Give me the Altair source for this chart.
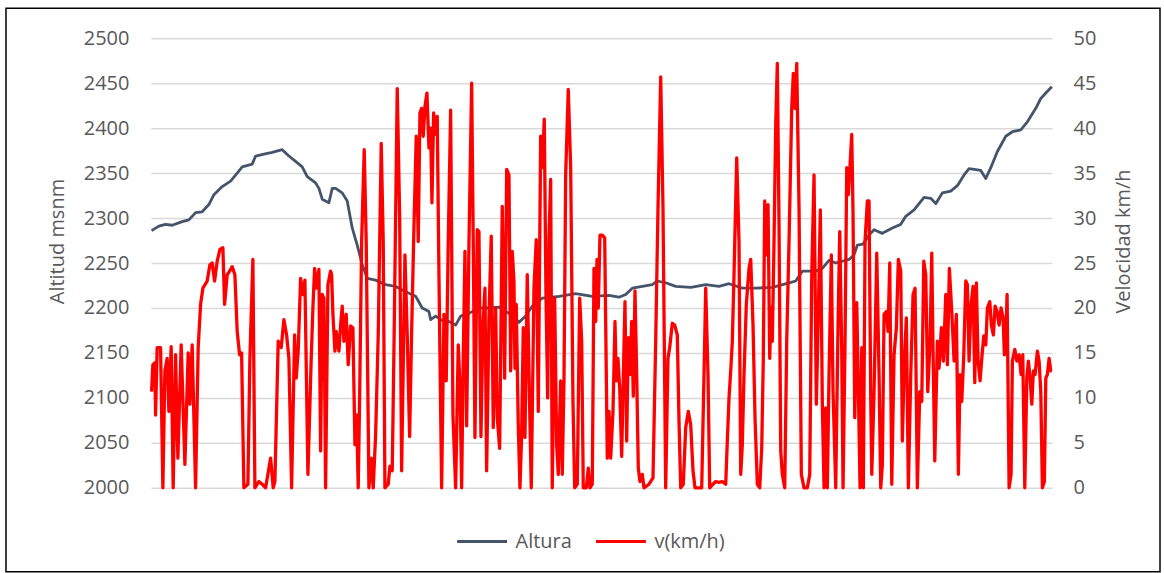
import altair as alt
import pandas as pd

# Altura (msnm) — sample position along the route vs altitude
alt_t = [0.7, 8, 14.7, 21.3, 31.3, 38, 44.7, 51.3, 58, 63, 71.3, 79.7, 86.3, 91.3, 101.3, 104.7,
         113, 121.3, 131.3, 138, 144.7, 151.3, 156.3, 164.7, 168, 171.3, 178, 181.3, 184.7, 191.3,
         196.3, 201.3, 206.3, 211.3, 216.3, 224.7, 234.7, 244.7, 254.7, 264.7, 271.3, 278, 279.7,
         284.7, 291.3, 298, 304.7, 309.7, 318, 328, 338, 348, 358, 368, 374.7, 381.3, 391.3, 408,
         424.7, 441.3, 458, 468, 474.7, 481.3, 491.3, 501.3, 506.3, 514.7, 524.7, 540, 554.7, 568,
         578, 591.3, 604.7, 621.3, 638, 644.7, 651.3, 664.7, 671.3, 678, 684.7, 698, 703, 706.3,
         712, 718, 723, 731.3, 741.3, 749.7, 754.7, 763, 773, 779.7, 784.7, 791.3, 799.7, 806.3,
         813, 818, 829.7, 834.7, 839.7, 846.3, 854.7, 861.3, 869.7, 876.3, 884.7, 889.7, 894.7, 900.7]
alt_v = [2286, 2291, 2293, 2292, 2296, 2298, 2306, 2307, 2315, 2326, 2335, 2341, 2350, 2357, 2360, 2369,
         2371, 2373, 2376, 2369, 2363, 2357, 2346, 2339, 2333, 2321, 2317, 2333, 2333, 2328,
         2319, 2289, 2270, 2248, 2233, 2231, 2226, 2224, 2218, 2213, 2200, 2196, 2187,
         2191, 2186, 2185, 2181, 2191, 2194, 2200, 2200, 2201, 2194, 2184, 2191, 2202, 2211, 2213,
         2216, 2213, 2214, 2212, 2215, 2222, 2224, 2226, 2230, 2228, 2224, 2223, 2226, 2224,
         2227, 2222, 2222, 2223, 2228, 2230, 2241, 2241, 2244, 2253, 2250, 2254, 2259, 2270,
         2271, 2281, 2287, 2283, 2289, 2293, 2302, 2309, 2323, 2322, 2316, 2328, 2330, 2336,
         2348, 2355, 2353, 2344, 2356, 2374, 2391, 2396, 2398, 2407, 2422, 2433, 2439, 2446]

# v(km/h)
vel_t = [0.7, 2, 4, 4.7, 6.3, 9.7, 12, 14, 16.3, 18, 20.3, 22.3, 24.7, 27, 30.3, 34, 37.3, 39, 41.3,
         44.7, 47.3, 49.7, 52, 56.3, 59, 61.3, 63.7, 66.3, 69, 72, 73.7, 76.3, 78.7, 81.3, 84, 86.3,
         88.7, 90.7, 93, 97, 99, 102, 104, 108, 111.3, 114.7, 119.7, 122.3, 124, 127.3, 130.3, 133,
         135.7, 138, 140.7, 143.7, 145.3, 147.3, 149.7, 152, 154, 157, 160.3, 162, 163.7, 165.3, 168,
         169.7, 171.3, 173, 174.7, 177, 179.7,
         180.7, 182, 184, 185.3, 188, 189.7, 191.3, 193, 195.3, 197.3, 199.7, 202, 204, 205.7, 207.3,
         208.7, 210.7, 213.3, 215.3, 218, 220.3, 222.3, 224.7, 227.3, 230.3, 232.3, 234, 237.3, 239,
         241.3, 243, 246.3, 248.7, 250.7, 254, 256.3, 258.7, 260.7, 263, 265.3, 267.3, 269, 270.7,
         272.3, 274, 276, 278, 279.7, 281, 282.7, 284.7, 286.3, 288, 290.7, 293, 295.3, 297.3, 299.7,
         302, 304.7, 307.3, 309, 310.7, 312.3, 314, 315.7, 318, 320.7, 322.3, 324, 326.3, 328, 330,
         332, 334, 335.7, 338, 340.3, 342.3, 344.7, 346.3, 348.7, 351.3, 353.7, 355.7, 358,
         359.7, 361.3, 363, 364, 365.3, 367.3, 369, 370.7, 372.3, 374, 376.3, 378.7, 380.3, 383,
         385.3, 387.3, 389.7, 391.3, 393.3, 395, 396.7, 398, 399.7, 401.3, 403.7, 405.7, 407.3, 409.7,
         411.3, 413, 414.7, 417.3, 419.7, 422, 423.7, 426.3, 428.7, 430.7, 432.3, 435.3, 437.3, 439,
         441.3, 443, 444.7, 446, 447.3, 449, 451.3, 453.7, 456.3, 458, 459.7, 462, 464, 465.3, 467,
         468.7, 470.7, 472.3, 474, 475.7, 477.3, 479, 480.7, 482.3, 484, 485.7, 487.3, 489, 491.3,
         493, 498, 502, 504.7, 507, 509.7, 512, 514.7, 517, 518.7, 521.3, 523.7, 526.3, 528, 529.7,
         532.3, 534.7, 537.3,
         539.7, 542, 544, 550.7, 553, 554.7, 557, 558.7, 562, 564.7, 568, 571.3, 574.7, 576.3, 578,
         579.7, 581.3, 583, 585.7, 588, 589.7, 591.3, 593, 595.3, 598, 599.7, 602, 604, 606.3, 608.7,
         610.7, 612.3, 613.7, 615.3, 617, 618.7, 620, 621.3, 623, 624.7, 626.3, 628, 629.7, 631.3,
         633.7, 635.7, 638, 640.7, 642.3, 644, 645.7, 648, 650.3, 653, 656.3, 658.7, 660.7, 663,
         665.3, 667.3, 669.3, 671.3, 673, 674.7, 676.3, 678, 680.3, 682, 684.7, 687, 688.7, 690.7,
         692, 694, 695.7, 697.3, 699, 700.7, 702, 703.7, 705.7, 707.3, 709, 710.7, 712.3, 714, 716.3,
         718, 719.7, 720.7, 723, 725.7, 728, 729.7, 731.3, 733, 735.3, 737, 738.7, 740.7, 743, 745.3,
         747.3, 749.7, 751.3, 753.3, 755.3, 757.3, 759.7, 762, 764, 766.3, 768.7, 770.7, 772.7,
         774.7, 776.7, 779, 780.7, 782, 783.7, 786.3, 788, 790.3, 792.3, 794.7, 796.3, 798.3, 800.7,
         803, 805.3, 807.3, 809, 810.7, 812.7, 814.7, 816.3, 818, 820, 822, 823.7, 825.3, 827, 829,
         830.7, 832.7, 834.7, 836.3, 838.7, 840.3, 842.3, 844, 846, 848, 850, 852, 853.3, 854.7, 856,
         858, 860, 861.3, 863.7, 865.7, 868, 870, 871.7, 873.7, 875.7, 877.3, 879, 880.7, 882.3, 884,
         886.3, 888, 889.7, 891.3, 893.3, 894.7, 896.3, 898, 899.7, 900.7]
vel_v = [10.7, 13.7, 13.9, 8.1, 15.6, 15.6, 0, 13, 14.4, 8.5, 15.7, 0, 14.8, 3.3, 15.9, 2.6, 15, 9.3, 15.9,
         0, 15.6, 20.4, 22.2, 23, 24.8, 25, 23, 25.2, 26.5, 26.7, 20.4, 23.7, 24.1, 24.6, 23.7, 17.4,
         14.8, 15, 0, 0.4, 14.4, 25.4, 0, 0.7, 0.4, 0, 3.3, 0, 0.7, 16.3, 15.6, 18.7,
         17, 14.4, 0, 17, 12.2, 15.2, 23.3, 21.5, 23.1, 1.5, 14.4, 20, 24.4, 22.2, 24.3,
         4.1, 21.5, 21.1, 0, 22.6, 24.1,
         23.7, 19.3, 15.2, 17.4, 15.2, 18.1, 20.2, 16.3, 19.3, 13.7, 18, 17.8, 4.8, 8.1, 0,
         10, 27.4, 37.6, 27.4, 0, 3.3, 0, 5.9, 17, 38.3, 27.4, 0, 0.4, 2.4,
         1.9, 15.2, 44.4, 30.4, 1.9, 25.9, 17, 5.7, 17.4, 28.9, 39.1, 27.4, 41.7, 42.2,
         39.1, 42.4, 43.9, 37.8, 40, 31.7, 41.7, 39.3, 41.3, 23.7, 0, 19.3, 11.9, 27.4, 42,
         8.1, 0, 15.9, 11.5, 0, 14.4, 26.3, 6.9, 27.2, 45, 27.4, 5.6, 28.7, 28.5, 5.7,
         18.1, 22.2, 1.9, 18.9, 28, 6.7, 20, 7.8, 4.4, 31.3, 12.2, 35.4, 34.8,
         13, 26.3, 23, 13.3, 20.4, 7, 0, 5.9, 17.8, 5.6, 23.7, 8.9, 0, 22.2,
         27.6, 8.5, 39.1, 35.6, 41, 21.5, 10, 27.8, 34.3, 0, 21.1, 4.8, 1.5, 11.9,
         1.5, 11.9, 34.8, 44.3, 35.6, 9.6, 0, 0.4, 21.1, 16.3, 0, 0, 2.2, 0,
         0.4, 24.4, 18.5, 25.4, 20, 28.1, 28.1, 27.8, 3.3, 8.5, 3.3, 8.5, 18.5, 11.9, 14.4,
         11.1, 3.5, 12.2, 20.7, 5.2, 16.7, 12.6, 18.5, 10.2, 21.9, 12.6, 2.2, 0.7, 1.5,
         0, 0.4, 1.1, 16.3, 31.1, 45.7, 31.1, 0, 14.4, 15.6, 18.3, 18.1, 17, 7.4, 0,
         0.4, 6.7, 8.5,
         7, 1.9, 0, 0, 12.6, 22.2, 12.6, 0, 0.4, 0.7, 0.6, 0.7, 0.4, 5.2, 10,
         13, 16.3, 23.7, 36.7, 27.4, 1.5, 4.8, 12.6, 20.4, 24.4, 25.4, 18.1, 7.8, 0.4, 0,
         4.4, 14.4, 31.9, 25.9, 31.5, 14.4, 20, 16.3, 27.4, 40.4, 47.2, 29.3, 4.1, 1.5,
         0, 16.3, 27.4, 42.2, 46.1, 42.2, 47.2, 31.1, 1.5, 0, 0, 1.5, 23.7, 34.8,
         9.3, 19.3, 30.9, 9.3, 0, 8.9, 0, 12.6, 25.9, 10.7, 0, 18.1, 28.5, 15.2,
         0, 16.3, 35.6, 32.6, 35.9, 39.3, 30.4, 7.8, 20.6, 11.1, 0, 15.6, 0, 27.4, 31.9,
         31.9, 10, 1.5, 10.7, 26.1, 12.6, 0, 2.6, 19.3, 19.6, 17.4, 25, 0.4, 14.8, 17.8,
         25.4, 24.1, 5.2, 14.1, 18.9, 0, 12.6, 21.5, 22.2, 0, 10.7, 9.6, 25.2,
         23.7, 10.7, 16.3, 26.1, 15.2, 3, 16.3, 13.3, 17.8, 14.1, 21.5, 13.7, 24.4, 19.6,
         14.1, 19.3, 1.5, 12.6, 9.6, 14.8, 23, 22.6, 14.1, 20.4, 22.4, 11.7, 22.8, 14.1, 11.9,
         14.4, 16.9, 15.9, 20, 20.7, 18.1, 17, 20.2, 19.6, 18.1, 20, 18.9, 14.8, 16.7, 21.5,
         0, 1.5, 14.1, 15.4, 14.1, 14.8, 12.6, 14.8, 0, 12.2, 14.1, 12.2, 9.3, 13, 12.6,
         15.2, 14.1, 10.7, 0, 0.7, 12.2, 12.6, 14.4, 13, 13]

series = ["Altura", "v(km/h)"]
colors = ["#44546A", "#FF0000"]
grey = "#595959"

df_alt = pd.DataFrame({"t": alt_t, "val": alt_v, "serie": series[0]})
df_vel = pd.DataFrame({"t": vel_t, "val": vel_v, "serie": series[1]})

xenc = alt.X("t:Q", scale=alt.Scale(domain=[0, 901], nice=False, zero=False), axis=None)
color = alt.Color(
    "serie:N",
    scale=alt.Scale(domain=series, range=colors),
    legend=alt.Legend(
        title=None, orient="none", legendX=305, legendY=477, direction="horizontal",
        symbolType="stroke", symbolSize=2500, symbolStrokeWidth=3,
        labelFontSize=20, labelColor=grey, labelFont="Open Sans",
        columnPadding=17, labelOffset=7, padding=0,
    ),
)

line_alt = alt.Chart(df_alt).mark_line(strokeWidth=2.8, strokeJoin="round").encode(
    x=xenc,
    y=alt.Y(
        "val:Q",
        scale=alt.Scale(domain=[2000, 2500], nice=False, zero=False),
        axis=alt.Axis(
            title="Altitud  msnm", values=list(range(2000, 2501, 50)), orient="left",
            format="d",
            grid=True, gridColor="#D9D9D9", gridWidth=1.5, domain=False, ticks=False,
            tickSize=0, labelPadding=22, labelFontSize=20, labelColor=grey,
            titleFontSize=20, titleFontWeight="normal", titleColor=grey,
            titleX=-83, titleY=203, titleAngle=270, titleBaseline="bottom",
        ),
    ),
    color=color,
)

line_vel = alt.Chart(df_vel).mark_line(strokeWidth=3.3, strokeJoin="round").encode(
    x=xenc,
    y=alt.Y(
        "val:Q",
        scale=alt.Scale(domain=[0, 50], nice=False, zero=False),
        axis=alt.Axis(
            title="Velocidad km/h", values=list(range(0, 51, 5)), orient="right",
            format="d",
            grid=False, domain=False, ticks=False, tickSize=0, labelPadding=21,
            labelFontSize=20, labelColor=grey,
            titleFontSize=20, titleFontWeight="normal", titleColor=grey,
            titleX=81, titleY=203, titleAngle=270, titleBaseline="bottom",
        ),
    ),
    color=color,
)

frame = alt.Chart(pd.DataFrame({"k": [0]})).mark_rect(
    fillOpacity=0, stroke="black", strokeWidth=1.5, clip=False
).encode(x=alt.value(-145), x2=alt.value(1010), y=alt.value(-30), y2=alt.value(534))

chart = (
    alt.layer(line_alt, line_vel, frame)
    .resolve_scale(y="independent")
    .properties(width=902, height=450, padding={"left": 5, "top": 7, "right": 3, "bottom": 1})
    .configure(font="Open Sans")
    .configure_view(stroke=None)
)

chart.save("out.html", embed_options={"renderer": "svg", "actions": False})
